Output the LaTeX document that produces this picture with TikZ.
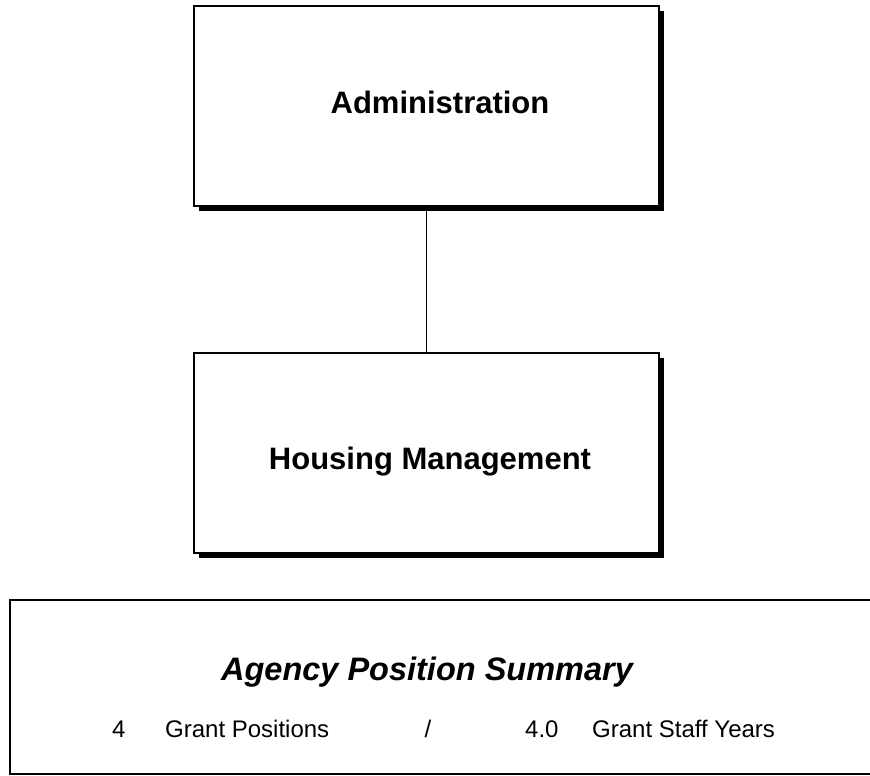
\documentclass[tikz,border=0pt]{standalone}
\usepackage{fontspec}
\setmainfont{Liberation Sans}
\usetikzlibrary{positioning,shadows}
\tikzset{
  orgbox/.style={draw, fill=white, line width=1.6pt, minimum width=465pt, minimum height=200pt,
    drop shadow={shadow xshift=5pt, shadow yshift=-5pt, fill=black, opacity=1}},
  boxtext/.style={font=\fontsize{31}{37}\selectfont\bfseries, anchor=base, inner sep=0pt},
  sumtext/.style={font=\fontsize{24}{29}\selectfont, anchor=base west, inner sep=0pt},
}
\begin{document}
\begin{tikzpicture}[x=1pt, y=-1pt]
    \useasboundingbox (0,0) rectangle (870,776);
    % org chart
    \node (admin) [orgbox] at (426.5,106) {};
    \node (housing) [orgbox] at (426.5,453) {};
    \draw[line width=1pt] (admin.south) -- (housing.north);
    \node (admintext) [boxtext] at (440,113) {Administration};
    \node (housingtext) [boxtext] at (430,469) {Housing Management};
    % summary
    \begin{scope}
    \clip (0,0) rectangle (870,776);
    \node (summary) [draw, line width=1.6pt, minimum width=866pt, minimum height=174pt] at (443,687) {};
    \end{scope}
    \node (summarytitle) [font=\fontsize{32.5}{39}\selectfont\bfseries\itshape, anchor=base, inner sep=0pt] at (427,680) {Agency Position Summary};
    \node (numpos) [sumtext] at (112,737) {4};
    \node (txtpos) [sumtext] at (165,737) {Grant Positions};
    \node (slash) [sumtext, anchor=base] at (428,737) {/};
    \node (numyrs) [sumtext] at (525,737) {4.0};
    \node (txtyrs) [sumtext] at (592,737) {Grant Staff Years};
\end{tikzpicture}
\end{document}
